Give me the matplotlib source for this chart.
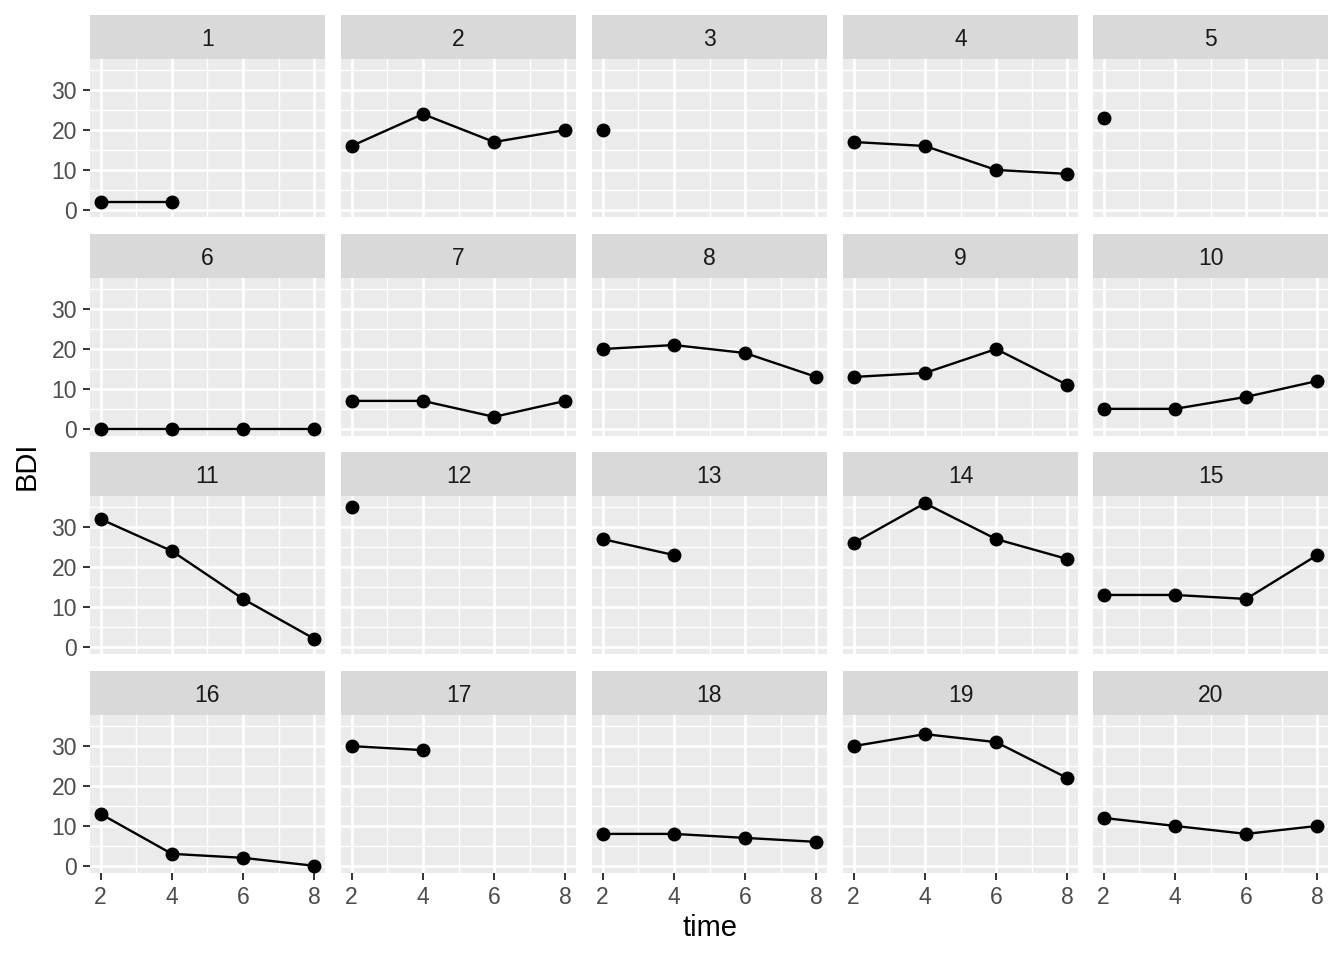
import numpy as np
import matplotlib
matplotlib.use('Agg')
import matplotlib.pyplot as plt
from matplotlib.ticker import MultipleLocator

plt.rcParams['font.family'] = ['Liberation Sans', 'DejaVu Sans']

# BDI scores per subject at time 2, 4, 6, 8 (nan = missing)
time = [2, 4, 6, 8]
subjects = list(range(1, 21))
nan = np.nan
bdi = [
    [2, 2, nan, nan],
    [16, 24, 17, 20],
    [20, nan, nan, nan],
    [17, 16, 10, 9],
    [23, nan, nan, nan],
    [0, 0, 0, 0],
    [7, 7, 3, 7],
    [20, 21, 19, 13],
    [13, 14, 20, 11],
    [5, 5, 8, 12],
    [32, 24, 12, 2],
    [35, nan, nan, nan],
    [27, 23, nan, nan],
    [26, 36, 27, 22],
    [13, 13, 12, 23],
    [13, 3, 2, 0],
    [30, 29, nan, nan],
    [8, 8, 7, 6],
    [30, 33, 31, 22],
    [12, 10, 8, 10],
]
x_ticks = [2, 4, 6, 8]
y_ticks = [0, 10, 20, 30]

W, H = 1344, 960
fig = plt.figure(figsize=(W / 100, H / 100), dpi=100)

col_left = [90, 341, 592, 843, 1093]
panel_w = 235
strip_top = [15, 234, 452, 671]
strip_h = 44
panel_h = 158

def rect(x, y, w, h):
    return [x / W, 1 - (y + h) / H, w / W, h / H]

for i, subj in enumerate(subjects):
    r, c = divmod(i, 5)
    x0 = col_left[c]
    y0 = strip_top[r]

    # strip
    sax = fig.add_axes(rect(x0, y0, panel_w, strip_h))
    sax.set_facecolor('#D9D9D9')
    sax.set_xticks([])
    sax.set_yticks([])
    for s in sax.spines.values():
        s.set_visible(False)
    sax.text(0.5, 0.30, str(subj), ha='center', va='baseline',
             fontsize=16.5, color='#1A1A1A', transform=sax.transAxes)

    # panel
    ax = fig.add_axes(rect(x0, y0 + strip_h, panel_w, panel_h))
    ax.set_facecolor('#EBEBEB')
    for s in ax.spines.values():
        s.set_visible(False)
    ax.set_xlim(1.7, 8.3)
    ax.set_ylim(-1.8, 37.8)
    ax.set_xticks(x_ticks)
    ax.set_yticks(y_ticks)
    ax.xaxis.set_minor_locator(MultipleLocator(1))
    ax.yaxis.set_minor_locator(MultipleLocator(5))
    ax.grid(which='major', color='white', lw=1.9)
    ax.grid(which='minor', color='white', lw=0.95)
    ax.set_axisbelow(True)
    ax.tick_params(which='minor', length=0)
    ax.tick_params(which='major', length=4.8, width=1.4, color='#333333',
                   labelsize=16.5, labelcolor='#4D4D4D', pad=4.5)
    if c != 0:
        ax.tick_params(axis='y', length=0, labelleft=False)
    if r != 3:
        ax.tick_params(axis='x', length=0, labelbottom=False)

    ax.plot(time, bdi[i], color='black', lw=1.7, marker='o', ms=9,
            clip_on=False)

fig.text(710 / W, 1 - 928 / H, 'time', ha='center', va='center',
         fontsize=21, color='black')
fig.text(27 / W, 1 - 466 / H, 'BDI', ha='center', va='center',
         fontsize=21, color='black', rotation=90)

fig.savefig('out.png', dpi=100)
